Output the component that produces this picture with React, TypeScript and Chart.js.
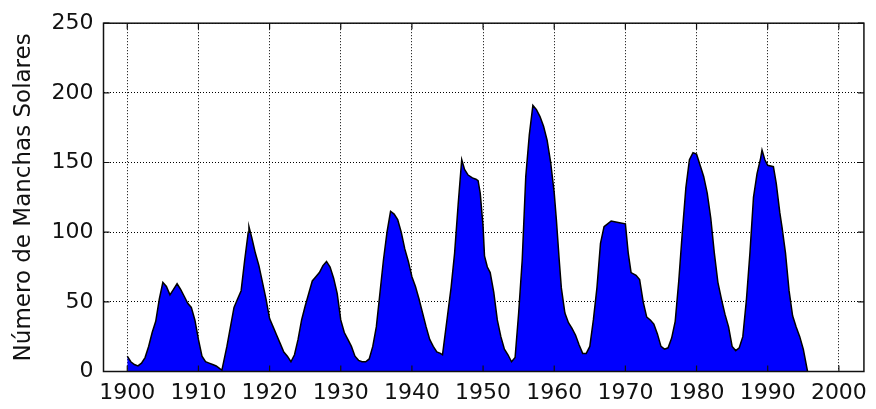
import { useEffect, useRef } from "react";
import { Chart, registerables } from "chart.js";

Chart.register(...registerables);

// Time (decimal years) and sunspot numbers
const years = [
  1900, 1900.5, 1901, 1901.5, 1902, 1902.5, 1903, 1903.5, 1904, 1904.5,
  1905, 1905.5, 1906, 1906.5, 1907, 1907.5, 1908, 1908.5, 1909, 1909.5,
  1910, 1910.5, 1911, 1911.5, 1912, 1912.5, 1913, 1913.3, 1914, 1914.5,
  1915, 1915.5, 1916, 1916.5, 1917, 1917.1, 1917.5, 1918, 1918.5, 1919,
  1919.5, 1920, 1920.5, 1921, 1921.5, 1922, 1922.5, 1923, 1923.5, 1924,
  1924.5, 1925, 1925.5, 1926, 1926.5, 1927, 1927.5, 1928, 1928.5, 1929,
  1929.5, 1930, 1930.5, 1931, 1931.5, 1932, 1932.5, 1933, 1933.5, 1934,
  1934.5, 1935, 1935.5, 1936, 1936.5, 1937, 1937.5, 1938, 1938.5, 1939,
  1939.5, 1940, 1940.5, 1941, 1941.5, 1942, 1942.5, 1943, 1943.5, 1944,
  1944.3, 1944.5, 1945, 1945.5, 1946, 1946.5, 1947, 1947.4, 1947.9, 1948.5,
  1949, 1949.3, 1949.6, 1950, 1950.2, 1950.6, 1951, 1951.5, 1952, 1952.5,
  1953, 1953.5, 1954, 1954.5, 1955, 1955.5, 1956, 1956.5, 1957, 1957.5,
  1958, 1958.5, 1959, 1959.5, 1960, 1960.3, 1960.7, 1961, 1961.5, 1962,
  1962.5, 1963, 1963.5, 1964, 1964.5, 1965, 1965.5, 1966, 1966.5, 1967,
  1967.5, 1968, 1969, 1970, 1970.4, 1970.8, 1971.5, 1972, 1972.5, 1973,
  1973.5, 1974, 1974.5, 1975, 1975.5, 1976, 1976.5, 1977, 1977.5, 1978,
  1978.5, 1979, 1979.5, 1980, 1980.5, 1981, 1981.5, 1982, 1982.5, 1983,
  1983.5, 1984, 1984.5, 1985, 1985.5, 1986, 1986.5, 1987, 1987.5, 1988,
  1988.5, 1989, 1989.2, 1989.6, 1990, 1990.8, 1991.2, 1991.7, 1992, 1992.5,
  1993, 1993.5, 1994, 1994.5, 1995, 1995.6,
];

const sunspots = [
  11, 7, 5, 4, 6, 10, 18, 28, 36, 52,
  64, 61, 55, 59, 63, 59, 54, 49, 46, 37,
  23, 11, 7, 6, 5, 4, 2, 1, 18, 32,
  46, 52, 58, 80, 100, 104, 96, 85, 76, 64,
  52, 38, 32, 26, 20, 14, 11, 7, 12, 23,
  37, 47, 56, 65, 68, 71, 76, 79, 75, 67,
  56, 37, 28, 23, 18, 11, 8, 7, 7, 9,
  18, 32, 56, 80, 100, 115, 113, 109, 100, 88,
  79, 68, 61, 52, 42, 32, 23, 18, 14, 13,
  12, 20, 40, 60, 85, 120, 152, 145, 141, 139,
  138, 137, 128, 104, 83, 75, 71, 57, 37, 25,
  16, 12, 7, 10, 42, 80, 140, 170, 191, 188,
  183, 176, 166, 150, 128, 109, 80, 60, 42, 35,
  31, 26, 19, 13, 13, 18, 37, 60, 92, 104,
  106, 108, 107, 106, 85, 71, 69, 66, 50, 39,
  37, 34, 27, 18, 16, 17, 24, 36, 65, 100,
  132, 152, 157, 156, 148, 140, 128, 110, 85, 64,
  52, 41, 32, 18, 15, 17, 25, 51, 85, 125,
  142, 153, 159, 152, 148, 147, 135, 114, 104, 85,
  58, 40, 32, 25, 16, 0,
];

const xTicks = [1900, 1910, 1920, 1930, 1940, 1950, 1960, 1970, 1980, 1990, 2000];
const yTicks = [0, 50, 100, 150, 200, 250];
const yTitle = "Número de Manchas Solares";

const FONT = "'DejaVu Sans', 'Liberation Sans', sans-serif";

const framePlugin = {
  id: "frame",
  afterDatasetsDraw(chart: any) {
    const { ctx, chartArea: a, scales } = chart;
    ctx.save();
    ctx.strokeStyle = "#111";
    ctx.lineWidth = 1.5;
    ctx.strokeRect(a.left, a.top, a.right - a.left, a.bottom - a.top);
    ctx.lineWidth = 1.2;
    const L = 6;
    ctx.beginPath();
    scales.x.ticks.forEach((t: any) => {
      const px = scales.x.getPixelForValue(t.value);
      ctx.moveTo(px, a.bottom);
      ctx.lineTo(px, a.bottom - L);
      ctx.moveTo(px, a.top);
      ctx.lineTo(px, a.top + L);
    });
    scales.y.ticks.forEach((t: any) => {
      const py = scales.y.getPixelForValue(t.value);
      ctx.moveTo(a.left, py);
      ctx.lineTo(a.left + L, py);
      ctx.moveTo(a.right, py);
      ctx.lineTo(a.right - L, py);
    });
    ctx.stroke();
    ctx.restore();
  },
};

export default function App() {
  const ref = useRef<HTMLCanvasElement>(null);

  useEffect(() => {
    document.body.style.margin = "0";
    const points = years.map((y, i) => ({ x: y, y: sunspots[i] }));
    const chart = new Chart(ref.current!, {
      type: "line",
      data: {
        datasets: [
          {
            data: points,
            borderColor: "#000",
            borderWidth: 1.5,
            backgroundColor: "#0000ff",
            fill: "origin",
            pointRadius: 0,
            tension: 0,
          },
        ],
      },
      options: {
        animation: false,
        responsive: true,
        maintainAspectRatio: false,
        layout: { padding: { top: 20, right: 4, left: 0, bottom: 0 } },
        plugins: { legend: { display: false }, tooltip: { enabled: false } },
        scales: {
          x: {
            type: "linear",
            min: 1896.66,
            max: 2003.52,
            afterBuildTicks: (axis: any) => {
              axis.ticks = xTicks.map((v) => ({ value: v }));
            },
            afterFit: (s: any) => {
              s.height = 37.5;
            },
            grid: { color: "#000", lineWidth: 1, drawTicks: false },
            border: { display: false, dash: [1, 2] },
            ticks: {
              padding: 9,
              color: "#111",
              font: { family: FONT, size: 22 },
              maxRotation: 0,
              autoSkip: false,
              callback: (v: any) => String(v),
            },
          },
          y: {
            min: 0,
            max: 250,
            afterBuildTicks: (axis: any) => {
              axis.ticks = yTicks.map((v) => ({ value: v }));
            },
            afterFit: (s: any) => {
              s.width = 103.5;
            },
            grid: { color: "#000", lineWidth: 1, drawTicks: false },
            border: { display: false, dash: [1, 2] },
            ticks: {
              padding: 10,
              color: "#111",
              font: { family: FONT, size: 22 },
              callback: (v: any) => String(v),
            },
            title: {
              display: true,
              text: yTitle,
              color: "#111",
              font: { family: FONT, size: 23 },
              padding: { top: 10, bottom: 0 },
            },
          },
        },
      },
      plugins: [framePlugin],
    });
    return () => chart.destroy();
  }, []);

  return (
    <div style={{ position: "absolute", left: 0, top: 0, width: 876, height: 409 }}>
      <canvas ref={ref} />
    </div>
  );
}
